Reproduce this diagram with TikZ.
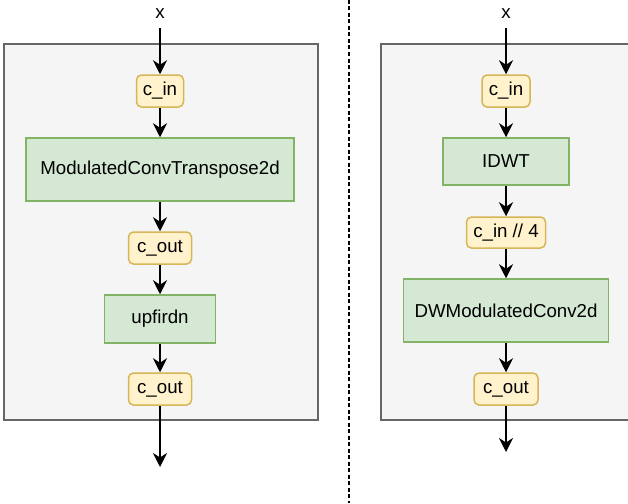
\documentclass[tikz,border=0pt]{standalone}
\usepackage{fontspec}
\setmainfont{Liberation Sans}
\usetikzlibrary{arrows.meta}
\definecolor{panelfill}{HTML}{F5F5F5}
\definecolor{panelline}{HTML}{666666}
\definecolor{chanfill}{HTML}{FFF2CC}
\definecolor{chanline}{HTML}{D6B656}
\definecolor{opfill}{HTML}{D5E8D4}
\definecolor{opline}{HTML}{82B366}
\begin{document}
\begin{tikzpicture}[x=1pt,y=-1pt,
  every node/.style={font=\fontsize{18.7}{20}\selectfont, inner sep=0pt},
  panel/.style={draw=panelline, fill=panelfill, line width=1.5pt},
  chan/.style={draw=chanline, fill=chanfill, line width=1.5pt, rounded corners=5pt, minimum height=32pt},
  op/.style={draw=opline, fill=opfill, line width=1.5pt},
  flow/.style={-{Stealth[length=14pt,width=14pt,inset=4.5pt]}, line width=2pt, black},
  divider/.style={line width=2pt, dash pattern=on 4pt off 2.5pt}]
\useasboundingbox (0,0) rectangle (628,503);
\begin{scope}
\clip (0,0) rectangle (628,503);
% two block outlines
\draw[panel] (4,44) rectangle (318,420);
\draw[panel] (381,44) rectangle (640,420);
% separator
\draw[divider] (349,0) -- (349,503);
\end{scope}

% left block: transposed convolution path
\node (xl) at (160,14) {x};
\coordinate (xlin) at (160,28);
\node[chan, minimum width=47pt] (lcin) at (160,91) {c\_in};
\node[op, minimum width=268pt, minimum height=63pt] (lconv) at (160,169.5) {ModulatedConvTranspose2d};
\node[chan, minimum width=63pt] (lcout) at (160,248) {c\_out};
\node[op, minimum width=111pt, minimum height=48pt] (lup) at (160,319) {upfirdn};
\node[chan, minimum width=63pt] (lcout2) at (160,389) {c\_out};
\coordinate (lend) at (160,467);

\draw[flow] (xlin) -- (lcin);
\draw[flow] (lcin) -- (lconv);
\draw[flow] (lconv) -- (lcout);
\draw[flow] (lcout) -- (lup);
\draw[flow] (lup) -- (lcout2);
\draw[flow] (lcout2) -- (lend);

% right block: wavelet path
\node (xr) at (506,14) {x};
\coordinate (xrin) at (506,28);
\node[chan, minimum width=48pt] (rcin) at (506,91) {c\_in};
\node[op, minimum width=126pt, minimum height=47pt] (ridwt) at (506,161.5) {IDWT};
\node[chan, minimum width=79pt, minimum height=31pt] (rcin4) at (506,232.5) {c\_in // 4};
\node[op, minimum width=205pt, minimum height=63pt] (rconv) at (506,310.5) {DWModulatedConv2d};
\node[chan, minimum width=64pt] (rcout) at (506,389) {c\_out};
\coordinate (rend) at (506,452);

\draw[flow] (xrin) -- (rcin);
\draw[flow] (rcin) -- (ridwt);
\draw[flow] (ridwt) -- (rcin4);
\draw[flow] (rcin4) -- (rconv);
\draw[flow] (rconv) -- (rcout);
\draw[flow] (rcout) -- (rend);
\end{tikzpicture}
\end{document}
